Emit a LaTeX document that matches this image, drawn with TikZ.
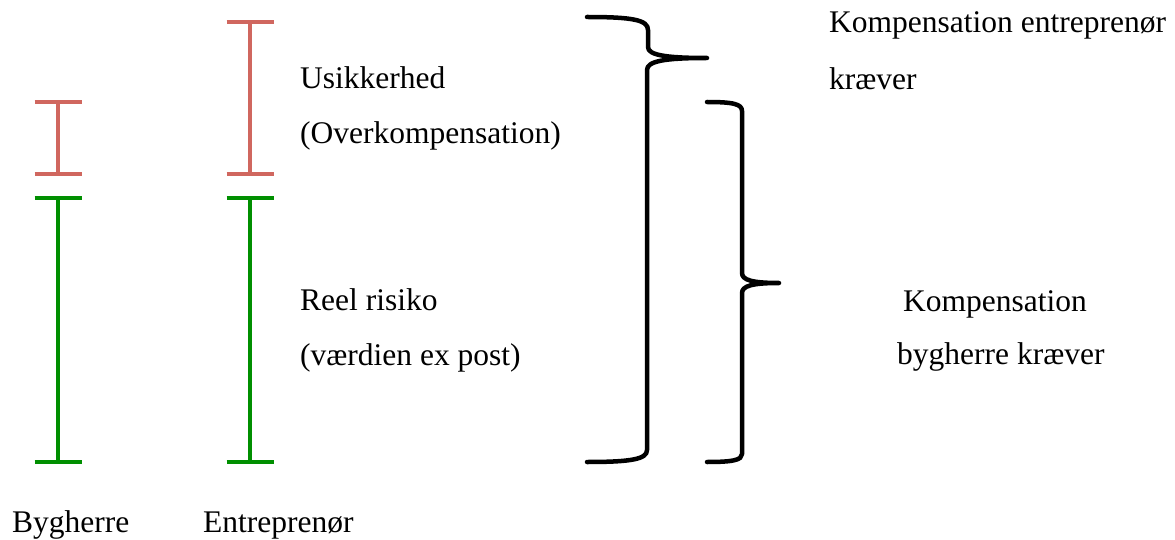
\documentclass[tikz,border=0pt]{standalone}
\usepackage{fontspec}
\setmainfont{Liberation Serif}
\definecolor{riskred}{HTML}{D0675F}
\definecolor{riskgreen}{HTML}{008F00}
\begin{document}
\begin{tikzpicture}[x=1pt,y=-1pt,
  lbl/.style={anchor=base west,inner sep=0pt,font=\fontsize{31.5}{38}\selectfont},
  span/.style={line width=4pt},
  brace/.style={line width=4.5pt,line cap=round,line join=round}]
\useasboundingbox (0,0) rectangle (1175,540);

% interval bars: vertical stem with a horizontal cap at each end
\newcommand{\intervalbar}[4]{%
  \draw[span,#4] (#1,#2) -- (#1,#3);
  \draw[span,#4] (#1-23.5,#2) -- (#1+23.5,#2);
  \draw[span,#4] (#1-23.5,#3) -- (#1+23.5,#3);}

% Bygherre
\intervalbar{58}{102}{174}{riskred}
\intervalbar{58}{198}{462}{riskgreen}
% Entreprenoer
\intervalbar{250}{22}{174}{riskred}
\intervalbar{250}{198}{462}{riskgreen}

% labels
\node[lbl] (usik) at (300,89) {Usikkerhed};
\node[lbl] (over) at (300,144) {(Overkompensation)};
\node[lbl] (reel) at (300,310) {Reel risiko};
\node[lbl] (vaerd) at (300,365) {(værdien ex post)};
\node[lbl] (kompE) at (829,33) {Kompensation entreprenør};
\node[lbl] (kraevE) at (829,90) {kræver};
\node[lbl] (kompB) at (903,311) {Kompensation};
\node[lbl] (kraevB) at (897,364) {bygherre kræver};
\node[lbl] (byg) at (12,532) {Bygherre};
\node[lbl] (entr) at (203,532) {Entreprenør};

% large brace: entrepreneur's total compensation
\draw[brace] (587,17) .. controls (633,17) and (648,20) .. (648,30)
  -- (648,47) .. controls (648,55) and (665,58) .. (707,58)
  .. controls (665,58) and (647,61) .. (647,70)
  -- (647,450) .. controls (647,459) and (632,462) .. (587,462);

% small brace: client's compensation
\draw[brace] (707,102) .. controls (733,102) and (742,104) .. (742,111)
  -- (742,273) .. controls (742,280) and (752,283) .. (779,283)
  .. controls (752,283) and (742,286) .. (742,293)
  -- (742,454) .. controls (742,460) and (733,462) .. (707,462);
\end{tikzpicture}
\end{document}
